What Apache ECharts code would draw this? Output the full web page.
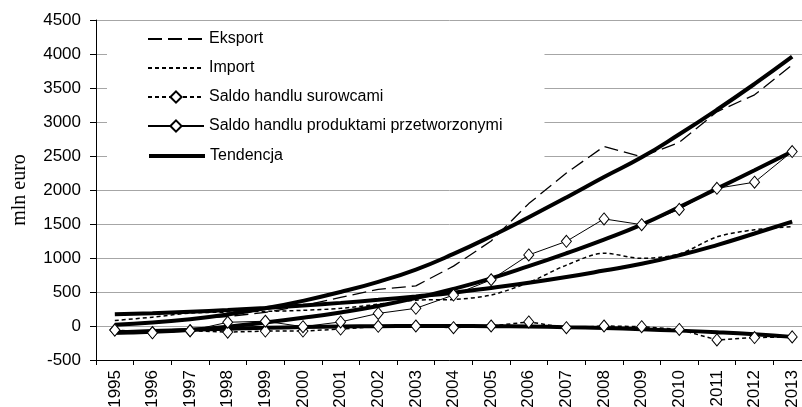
<!DOCTYPE html>
<html>
<head>
<meta charset="utf-8">
<script src="https://cdn.jsdelivr.net/npm/echarts@6/dist/echarts.min.js"></script>
<style>
  html, body { margin: 0; padding: 0; background: #fff; }
  #chart { width: 802px; height: 407px; }
</style>
</head>
<body>
<div id="chart"></div>
<script>
// lata
var years = ['1995', '1996', '1997', '1998', '1999', '2000', '2001', '2002', '2003', '2004',
             '2005', '2006', '2007', '2008', '2009', '2010', '2011', '2012', '2013'];

// dane (mln euro)
var eksport   = [20, 40, 100, 140, 200, 300, 420, 540, 590, 880, 1250, 1800, 2250, 2640, 2490, 2700, 3150, 3400, 3840];
var importVal = [80, 130, 190, 205, 215, 230, 260, 320, 380, 390, 455, 640, 895, 1070, 995, 1060, 1310, 1415, 1460];
var surowce   = [-60, -95, -70, -90, -75, -75, -45, -5, 0, -25, 0, 60, -25, 0, -10, -50, -205, -170, -160];
var produkty  = [-60, -100, -70, 55, 70, -10, 60, 185, 260, 455, 680, 1045, 1245, 1575, 1490, 1715, 2025, 2115, 2565];

// linie tendencji
var trendEksport  = [20, 50, 100, 170, 260, 370, 500, 650, 830, 1060, 1320, 1600, 1890, 2190, 2480, 2820, 3180, 3560, 3960];
var trendImport   = [172, 188, 210, 235, 265, 300, 340, 385, 435, 490, 560, 635, 720, 815, 915, 1040, 1190, 1360, 1535];
var trendSurowce  = [-95, -75, -57, -40, -27, -16, -8, -2, 0, 0, -2, -8, -18, -30, -48, -68, -92, -122, -160];
var trendProdukty = [-100, -85, -55, -10, 50, 120, 200, 295, 410, 545, 700, 880, 1070, 1270, 1490, 1750, 2020, 2290, 2565];

var yTicks = { min: -500, max: 4500, step: 500 };

var sans = 'Liberation Sans';
var chart = echarts.init(document.getElementById('chart'));

function trend(data) {
    return {
        name: 'Tendencja',
        type: 'line',
        data: data,
        smooth: true,
        symbol: 'none',
        lineStyle: { color: '#000', width: 4 },
        itemStyle: { color: '#000' },
        z: 3
    };
}

var diamond = {
    symbol: 'diamond',
    symbolSize: [10, 12],
    showAllSymbol: true,
    itemStyle: { color: '#fff', borderColor: '#000', borderWidth: 1 }
};

var legendText = { fontFamily: sans, fontSize: 16, color: '#000', lineHeight: 14 };

chart.setOption({
    animation: false,
    grid: { left: 96, top: 20, right: -9, bottom: 47, outerBoundsMode: 'none', containLabel: false },
    legend: [{
        orient: 'vertical',
        left: 107,
        top: 24,
        padding: [7, 42, 54, 40],
        backgroundColor: '#fff',
        itemWidth: 56,
        itemHeight: 14,
        itemGap: 13,
        data: [
            { name: 'Eksport', itemStyle: { opacity: 0 } },
            { name: 'Import', itemStyle: { opacity: 0 } },
            'Saldo handlu surowcami',
            'Saldo handlu produktami przetworzonymi'
        ],
        textStyle: legendText,
        z: 10
    }, {
        orient: 'vertical',
        left: 107,
        top: 148,
        padding: [0, 0, 0, 40],
        itemWidth: 56,
        itemHeight: 14,
        data: [{ name: 'Tendencja', itemStyle: { opacity: 0 }, lineStyle: { width: 4, color: '#000' } }],
        textStyle: legendText,
        z: 11
    }],
    xAxis: {
        type: 'category',
        data: years,
        boundaryGap: true,
        axisLine: { onZero: false, lineStyle: { color: '#000', width: 1 } },
        axisTick: { show: true, length: 5, lineStyle: { color: '#000' } },
        axisLabel: { rotate: 90, margin: 10, fontFamily: sans, fontSize: 17, color: '#000' }
    },
    yAxis: {
        type: 'value',
        min: yTicks.min,
        max: yTicks.max,
        interval: yTicks.step,
        name: 'mln euro',
        nameLocation: 'middle',
        nameGap: 66,
        nameTextStyle: { fontFamily: 'Liberation Serif', fontSize: 20, color: '#000' },
        axisLine: { show: true, lineStyle: { color: '#000', width: 1 } },
        axisTick: { show: true, length: 6, lineStyle: { color: '#000' } },
        axisLabel: {
            margin: 15, fontFamily: sans, fontSize: 17, color: '#000',
            formatter: function (v) { return String(v); }
        },
        splitLine: { lineStyle: { color: '#a6a6a6', width: 1 } }
    },
    series: [
        {
            name: 'Eksport', type: 'line', data: eksport, symbol: 'none',
            lineStyle: { color: '#000', width: 1.3, type: [14, 6] },
            itemStyle: { color: '#000' }, z: 2
        },
        {
            name: 'Import', type: 'line', data: importVal, symbol: 'none', smooth: 0.3,
            lineStyle: { color: '#000', width: 1.5, type: [4, 3] },
            itemStyle: { color: '#000' }, z: 2
        },
        Object.assign({
            name: 'Saldo handlu surowcami', type: 'line', data: surowce,
            lineStyle: { color: '#000', width: 1.5, type: [4, 3] }, z: 4
        }, diamond),
        Object.assign({
            name: 'Saldo handlu produktami przetworzonymi', type: 'line', data: produkty,
            lineStyle: { color: '#000', width: 1 }, z: 4
        }, diamond),
        trend(trendEksport),
        trend(trendImport),
        trend(trendSurowce),
        trend(trendProdukty)
    ]
});
</script>
</body>
</html>
